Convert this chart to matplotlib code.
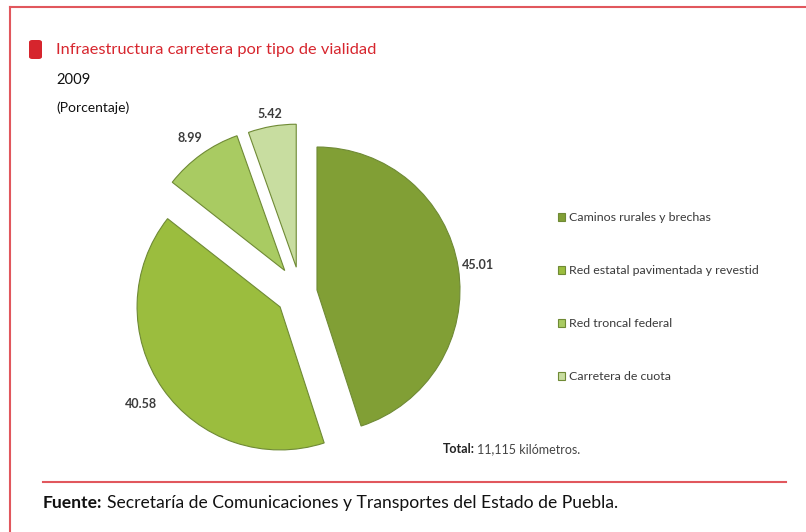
import matplotlib
matplotlib.use("Agg")
import matplotlib.pyplot as plt
from matplotlib.lines import Line2D
from matplotlib.patches import FancyBboxPatch
import numpy as np

categories = ["Caminos rurales y brechas", "Red estatal pavimentada y revestid",
              "Red troncal federal", "Carretera de cuota"]
values = [45.01, 40.58, 8.99, 5.42]
value_labels = ["45.01", "40.58", "8.99", "5.42"]
colors = ["#819f35", "#9bbd3e", "#a9cb62", "#c8dda0"]
explode = [0.116, 0.175, 0.19, 0.18]
label_dist = [1.14, 1.19, 1.14, 1.09]

W, H = 806, 532
fig = plt.figure(figsize=(W / 100, H / 100), dpi=100)
plt.rcParams['font.family'] = ['Lato', 'DejaVu Sans']

def fx(px):
    return px / W

def fy(py):
    return 1 - py / H

# pie axes
R = 143.0
cx, cy = 300.6, 292.6
half = 1.6 * R
ax = fig.add_axes([fx(cx - half), fy(cy + half), 2 * half / W, 2 * half / H])
wedges, _ = ax.pie(values, explode=explode, colors=colors, startangle=90,
                   counterclock=False, radius=1,
                   wedgeprops=dict(edgecolor="#6f8a35", linewidth=0.8))
ax.set_xlim(-1.6, 1.6)
ax.set_ylim(-1.6, 1.6)
ax.set_aspect('equal')
ax.axis('off')

for w, lab, d in zip(wedges, value_labels, label_dist):
    th = np.deg2rad((w.theta1 + w.theta2) / 2)
    x0, y0 = w.center
    ax.text(x0 + d * np.cos(th), y0 + d * np.sin(th), lab, ha='center', va='center',
            fontsize=9, fontweight='bold', color='#3c3c3c')

# legend
leg = fig.legend(wedges, categories, loc='upper left',
                 bbox_to_anchor=(fx(552), fy(206)), frameon=False,
                 fontsize=8.9, handlelength=0.55, handleheight=0.55, handletextpad=0.35,
                 labelspacing=3.4, borderpad=0)
for t in leg.get_texts():
    t.set_color('#3a3a3a')

# total
fig.text(fx(443), fy(449), "Total:", fontsize=9, fontweight='bold', color='#222222', va='center')
fig.text(fx(477), fy(449), "11,115 kilómetros.", fontsize=9, color='#444444', va='center')

# titles
sq = FancyBboxPatch((fx(29), fy(59)), fx(13), 19 / H,
                    boxstyle="round,pad=0,rounding_size=0.004",
                    transform=fig.transFigure, facecolor='#d6252d', edgecolor='none')
fig.add_artist(sq)
fig.text(fx(56), fy(50), "Infraestructura carretera por tipo de vialidad",
         fontsize=11.8, color='#d7262e', va='center')
fig.text(fx(56), fy(80), "2009", fontsize=10.6, color='#111111', va='center')
fig.text(fx(56), fy(108), "(Porcentaje)", fontsize=10, color='#111111', va='center')

# border
red = '#e1575d'
fig.add_artist(Line2D([fx(10), fx(10)], [fy(7), 0], transform=fig.transFigure, color=red, lw=1.5))
fig.add_artist(Line2D([fx(10), 1], [fy(7), fy(7)], transform=fig.transFigure, color=red, lw=1.5))
fig.add_artist(Line2D([fx(43), fx(786)], [fy(482), fy(482)], transform=fig.transFigure, color=red, lw=1.5))

# footer
fig.text(fx(43), fy(503), "Fuente:", fontsize=12.6, fontweight='bold', color='#111111', va='center')
fig.text(fx(107), fy(503), "Secretaría de Comunicaciones y Transportes del Estado de Puebla.",
         fontsize=12.6, color='#111111', va='center')

fig.savefig("out.png", dpi=100)
